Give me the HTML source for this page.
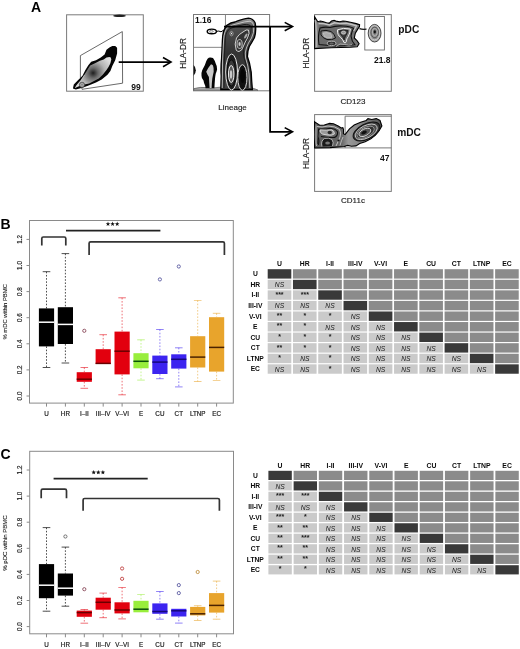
<!DOCTYPE html>
<html><head><meta charset="utf-8"><title>Figure</title>
<style>
html,body{margin:0;padding:0;background:#fff;}
body{width:520px;height:649px;overflow:hidden;}
svg{display:block;font-family:"Liberation Sans", sans-serif;filter:blur(0.3px);}
</style></head>
<body>
<svg width="520" height="649" viewBox="0 0 520 649">
<rect x="0" y="0" width="520" height="649" fill="#fff"/>
<rect x="29.5" y="220.5" width="203.8" height="182.60000000000002" fill="none" stroke="#8a8a8a" stroke-width="1"/>
<line x1="26.5" y1="396.0" x2="29.5" y2="396.0" stroke="#8a8a8a" stroke-width="1"/>
<text transform="translate(21.8,396.0) rotate(-90)" text-anchor="middle" font-size="6.3" fill="#222" stroke="#222" stroke-width="0.15">0.0</text>
<line x1="26.5" y1="369.9" x2="29.5" y2="369.9" stroke="#8a8a8a" stroke-width="1"/>
<text transform="translate(21.8,369.9) rotate(-90)" text-anchor="middle" font-size="6.3" fill="#222" stroke="#222" stroke-width="0.15">0.2</text>
<line x1="26.5" y1="343.8" x2="29.5" y2="343.8" stroke="#8a8a8a" stroke-width="1"/>
<text transform="translate(21.8,343.8) rotate(-90)" text-anchor="middle" font-size="6.3" fill="#222" stroke="#222" stroke-width="0.15">0.4</text>
<line x1="26.5" y1="317.7" x2="29.5" y2="317.7" stroke="#8a8a8a" stroke-width="1"/>
<text transform="translate(21.8,317.7) rotate(-90)" text-anchor="middle" font-size="6.3" fill="#222" stroke="#222" stroke-width="0.15">0.6</text>
<line x1="26.5" y1="291.6" x2="29.5" y2="291.6" stroke="#8a8a8a" stroke-width="1"/>
<text transform="translate(21.8,291.6) rotate(-90)" text-anchor="middle" font-size="6.3" fill="#222" stroke="#222" stroke-width="0.15">0.8</text>
<line x1="26.5" y1="265.5" x2="29.5" y2="265.5" stroke="#8a8a8a" stroke-width="1"/>
<text transform="translate(21.8,265.5) rotate(-90)" text-anchor="middle" font-size="6.3" fill="#222" stroke="#222" stroke-width="0.15">1.0</text>
<line x1="26.5" y1="239.4" x2="29.5" y2="239.4" stroke="#8a8a8a" stroke-width="1"/>
<text transform="translate(21.8,239.4) rotate(-90)" text-anchor="middle" font-size="6.3" fill="#222" stroke="#222" stroke-width="0.15">1.2</text>
<line x1="46.5" y1="403.1" x2="46.5" y2="406.6" stroke="#8a8a8a" stroke-width="1"/>
<text x="46.5" y="416.1" text-anchor="middle" font-size="6.3" fill="#1a1a1a" stroke="#1a1a1a" stroke-width="0.18">U</text>
<line x1="65.4" y1="403.1" x2="65.4" y2="406.6" stroke="#8a8a8a" stroke-width="1"/>
<text x="65.4" y="416.1" text-anchor="middle" font-size="6.3" fill="#1a1a1a" stroke="#1a1a1a" stroke-width="0.18">HR</text>
<line x1="84.3" y1="403.1" x2="84.3" y2="406.6" stroke="#8a8a8a" stroke-width="1"/>
<text x="84.3" y="416.1" text-anchor="middle" font-size="6.3" fill="#1a1a1a" stroke="#1a1a1a" stroke-width="0.18">I–II</text>
<line x1="103.2" y1="403.1" x2="103.2" y2="406.6" stroke="#8a8a8a" stroke-width="1"/>
<text x="103.2" y="416.1" text-anchor="middle" font-size="6.3" fill="#1a1a1a" stroke="#1a1a1a" stroke-width="0.18">III–IV</text>
<line x1="122.1" y1="403.1" x2="122.1" y2="406.6" stroke="#8a8a8a" stroke-width="1"/>
<text x="122.1" y="416.1" text-anchor="middle" font-size="6.3" fill="#1a1a1a" stroke="#1a1a1a" stroke-width="0.18">V–VI</text>
<line x1="141.0" y1="403.1" x2="141.0" y2="406.6" stroke="#8a8a8a" stroke-width="1"/>
<text x="141.0" y="416.1" text-anchor="middle" font-size="6.3" fill="#1a1a1a" stroke="#1a1a1a" stroke-width="0.18">E</text>
<line x1="159.9" y1="403.1" x2="159.9" y2="406.6" stroke="#8a8a8a" stroke-width="1"/>
<text x="159.9" y="416.1" text-anchor="middle" font-size="6.3" fill="#1a1a1a" stroke="#1a1a1a" stroke-width="0.18">CU</text>
<line x1="178.8" y1="403.1" x2="178.8" y2="406.6" stroke="#8a8a8a" stroke-width="1"/>
<text x="178.8" y="416.1" text-anchor="middle" font-size="6.3" fill="#1a1a1a" stroke="#1a1a1a" stroke-width="0.18">CT</text>
<line x1="197.7" y1="403.1" x2="197.7" y2="406.6" stroke="#8a8a8a" stroke-width="1"/>
<text x="197.7" y="416.1" text-anchor="middle" font-size="6.3" fill="#1a1a1a" stroke="#1a1a1a" stroke-width="0.18">LTNP</text>
<line x1="216.6" y1="403.1" x2="216.6" y2="406.6" stroke="#8a8a8a" stroke-width="1"/>
<text x="216.6" y="416.1" text-anchor="middle" font-size="6.3" fill="#1a1a1a" stroke="#1a1a1a" stroke-width="0.18">EC</text>
<line x1="46.5" y1="271.7" x2="46.5" y2="308.4" stroke="#222" stroke-width="0.8" stroke-dasharray="1.6,1.6" opacity="1"/>
<line x1="42.7" y1="271.7" x2="50.3" y2="271.7" stroke="#222" stroke-width="0.8" opacity="1"/>
<line x1="46.5" y1="346.4" x2="46.5" y2="367.5" stroke="#222" stroke-width="0.8" stroke-dasharray="1.6,1.6" opacity="1"/>
<line x1="42.7" y1="367.5" x2="50.3" y2="367.5" stroke="#222" stroke-width="0.8" opacity="1"/>
<rect x="38.9" y="308.4" width="15.2" height="38.0" fill="#000000"/>
<line x1="38.9" y1="322.2" x2="54.1" y2="322.2" stroke="#ffffff" stroke-width="1.5"/>
<line x1="65.4" y1="253.6" x2="65.4" y2="307.2" stroke="#222" stroke-width="0.8" stroke-dasharray="1.6,1.6" opacity="1"/>
<line x1="61.6" y1="253.6" x2="69.2" y2="253.6" stroke="#222" stroke-width="0.8" opacity="1"/>
<line x1="65.4" y1="344.0" x2="65.4" y2="363.0" stroke="#222" stroke-width="0.8" stroke-dasharray="1.6,1.6" opacity="1"/>
<line x1="61.6" y1="363.0" x2="69.2" y2="363.0" stroke="#222" stroke-width="0.8" opacity="1"/>
<rect x="57.8" y="307.2" width="15.2" height="36.8" fill="#000000"/>
<line x1="57.8" y1="324.4" x2="73.0" y2="324.4" stroke="#ffffff" stroke-width="1.5"/>
<line x1="84.3" y1="367.5" x2="84.3" y2="372.2" stroke="#e2000e" stroke-width="0.8" stroke-dasharray="1.6,1.6" opacity="0.7"/>
<line x1="80.5" y1="367.5" x2="88.1" y2="367.5" stroke="#e2000e" stroke-width="0.8" opacity="0.7"/>
<line x1="84.3" y1="381.8" x2="84.3" y2="388.3" stroke="#e2000e" stroke-width="0.8" stroke-dasharray="1.6,1.6" opacity="0.7"/>
<line x1="80.5" y1="388.3" x2="88.1" y2="388.3" stroke="#e2000e" stroke-width="0.8" opacity="0.7"/>
<rect x="76.7" y="372.2" width="15.2" height="9.6" fill="#e2000e"/>
<line x1="76.7" y1="379.2" x2="91.9" y2="379.2" stroke="#6a0000" stroke-width="1.5"/>
<circle cx="84.3" cy="330.8" r="1.6" fill="none" stroke="#8a4a5a" stroke-width="0.9"/>
<line x1="103.2" y1="334.7" x2="103.2" y2="349.2" stroke="#e2000e" stroke-width="0.8" stroke-dasharray="1.6,1.6" opacity="0.7"/>
<line x1="99.4" y1="334.7" x2="107.0" y2="334.7" stroke="#e2000e" stroke-width="0.8" opacity="0.7"/>
<rect x="95.6" y="349.2" width="15.2" height="14.8" fill="#e2000e"/>
<line x1="95.6" y1="363.4" x2="110.8" y2="363.4" stroke="#6a0000" stroke-width="1.5"/>
<line x1="122.1" y1="297.8" x2="122.1" y2="331.6" stroke="#e2000e" stroke-width="0.8" stroke-dasharray="1.6,1.6" opacity="0.7"/>
<line x1="118.3" y1="297.8" x2="125.9" y2="297.8" stroke="#e2000e" stroke-width="0.8" opacity="0.7"/>
<line x1="122.1" y1="374.4" x2="122.1" y2="394.8" stroke="#e2000e" stroke-width="0.8" stroke-dasharray="1.6,1.6" opacity="0.7"/>
<line x1="118.3" y1="394.8" x2="125.9" y2="394.8" stroke="#e2000e" stroke-width="0.8" opacity="0.7"/>
<rect x="114.5" y="331.6" width="15.2" height="42.8" fill="#e2000e"/>
<line x1="114.5" y1="351.2" x2="129.7" y2="351.2" stroke="#6a0000" stroke-width="1.5"/>
<line x1="141.0" y1="339.8" x2="141.0" y2="353.2" stroke="#98ee3c" stroke-width="0.8" stroke-dasharray="1.6,1.6" opacity="0.7"/>
<line x1="137.2" y1="339.8" x2="144.8" y2="339.8" stroke="#98ee3c" stroke-width="0.8" opacity="0.7"/>
<line x1="141.0" y1="368.3" x2="141.0" y2="380.1" stroke="#98ee3c" stroke-width="0.8" stroke-dasharray="1.6,1.6" opacity="0.7"/>
<line x1="137.2" y1="380.1" x2="144.8" y2="380.1" stroke="#98ee3c" stroke-width="0.8" opacity="0.7"/>
<rect x="133.4" y="353.2" width="15.2" height="15.1" fill="#98ee3c"/>
<line x1="133.4" y1="361.3" x2="148.6" y2="361.3" stroke="#0b500b" stroke-width="1.5"/>
<line x1="159.9" y1="329.5" x2="159.9" y2="355.6" stroke="#3c24f0" stroke-width="0.8" stroke-dasharray="1.6,1.6" opacity="0.7"/>
<line x1="156.1" y1="329.5" x2="163.7" y2="329.5" stroke="#3c24f0" stroke-width="0.8" opacity="0.7"/>
<line x1="159.9" y1="374.0" x2="159.9" y2="378.7" stroke="#3c24f0" stroke-width="0.8" stroke-dasharray="1.6,1.6" opacity="0.7"/>
<line x1="156.1" y1="378.7" x2="163.7" y2="378.7" stroke="#3c24f0" stroke-width="0.8" opacity="0.7"/>
<rect x="152.3" y="355.6" width="15.2" height="18.4" fill="#3c24f0"/>
<line x1="152.3" y1="362.1" x2="167.5" y2="362.1" stroke="#16087a" stroke-width="1.5"/>
<circle cx="159.9" cy="279.4" r="1.6" fill="none" stroke="#5a5aa0" stroke-width="0.9"/>
<line x1="178.8" y1="347.8" x2="178.8" y2="354.3" stroke="#3c24f0" stroke-width="0.8" stroke-dasharray="1.6,1.6" opacity="0.7"/>
<line x1="175.0" y1="347.8" x2="182.6" y2="347.8" stroke="#3c24f0" stroke-width="0.8" opacity="0.7"/>
<line x1="178.8" y1="368.6" x2="178.8" y2="386.9" stroke="#3c24f0" stroke-width="0.8" stroke-dasharray="1.6,1.6" opacity="0.7"/>
<line x1="175.0" y1="386.9" x2="182.6" y2="386.9" stroke="#3c24f0" stroke-width="0.8" opacity="0.7"/>
<rect x="171.2" y="354.3" width="15.2" height="14.3" fill="#3c24f0"/>
<line x1="171.2" y1="359.3" x2="186.4" y2="359.3" stroke="#16087a" stroke-width="1.5"/>
<circle cx="178.8" cy="266.5" r="1.6" fill="none" stroke="#5a5aa0" stroke-width="0.9"/>
<line x1="197.7" y1="300.4" x2="197.7" y2="336.2" stroke="#e8a42c" stroke-width="0.8" stroke-dasharray="1.6,1.6" opacity="0.7"/>
<line x1="193.9" y1="300.4" x2="201.5" y2="300.4" stroke="#e8a42c" stroke-width="0.8" opacity="0.7"/>
<line x1="197.7" y1="367.5" x2="197.7" y2="381.5" stroke="#e8a42c" stroke-width="0.8" stroke-dasharray="1.6,1.6" opacity="0.7"/>
<line x1="193.9" y1="381.5" x2="201.5" y2="381.5" stroke="#e8a42c" stroke-width="0.8" opacity="0.7"/>
<rect x="190.1" y="336.2" width="15.2" height="31.3" fill="#e8a42c"/>
<line x1="190.1" y1="357.1" x2="205.3" y2="357.1" stroke="#4a2200" stroke-width="1.5"/>
<line x1="216.6" y1="313.3" x2="216.6" y2="317.2" stroke="#e8a42c" stroke-width="0.8" stroke-dasharray="1.6,1.6" opacity="0.7"/>
<line x1="212.8" y1="313.3" x2="220.4" y2="313.3" stroke="#e8a42c" stroke-width="0.8" opacity="0.7"/>
<line x1="216.6" y1="371.6" x2="216.6" y2="380.4" stroke="#e8a42c" stroke-width="0.8" stroke-dasharray="1.6,1.6" opacity="0.7"/>
<line x1="212.8" y1="380.4" x2="220.4" y2="380.4" stroke="#e8a42c" stroke-width="0.8" opacity="0.7"/>
<rect x="209.0" y="317.2" width="15.2" height="54.4" fill="#e8a42c"/>
<line x1="209.0" y1="347.4" x2="224.2" y2="347.4" stroke="#4a2200" stroke-width="1.5"/>
<text transform="translate(6.5,311.8) rotate(-90)" text-anchor="middle" font-size="6.2" textLength="55.4" lengthAdjust="spacingAndGlyphs" fill="#222" stroke="#222" stroke-width="0.12">% mDC within PBMC</text>
<text x="0.6" y="228.9" font-size="14" font-weight="bold" fill="#000">B</text>
<line x1="66" y1="230.6" x2="160.4" y2="230.6" stroke="#222" stroke-width="1.6"/>
<polygon points="108.00,221.60 108.59,223.19 110.28,223.26 108.95,224.31 109.41,225.94 108.00,225.00 106.59,225.94 107.05,224.31 105.72,223.26 107.41,223.19" fill="#111"/>
<polygon points="112.60,221.60 113.19,223.19 114.88,223.26 113.55,224.31 114.01,225.94 112.60,225.00 111.19,225.94 111.65,224.31 110.32,223.26 112.01,223.19" fill="#111"/>
<polygon points="117.20,221.60 117.79,223.19 119.48,223.26 118.15,224.31 118.61,225.94 117.20,225.00 115.79,225.94 116.25,224.31 114.92,223.26 116.61,223.19" fill="#111"/>
<path d="M41.8,245.5 L41.8,238.5 Q41.8,237 43.3,237 L64.3,237 Q65.8,237 65.8,238.5 L65.8,245.5" fill="none" stroke="#333" stroke-width="1.7"/>
<path d="M89.1,255.1 L89.1,243.3 Q89.1,241.8 90.6,241.8 L222.9,241.8 Q224.4,241.8 224.4,243.3 L224.4,255.1" fill="none" stroke="#333" stroke-width="1.7"/>
<rect x="29.7" y="451.3" width="203.8" height="182.49999999999994" fill="none" stroke="#8a8a8a" stroke-width="1"/>
<line x1="26.7" y1="626.6" x2="29.7" y2="626.6" stroke="#8a8a8a" stroke-width="1"/>
<text transform="translate(21.8,626.6) rotate(-90)" text-anchor="middle" font-size="6.3" fill="#222" stroke="#222" stroke-width="0.15">0.0</text>
<line x1="26.7" y1="600.5" x2="29.7" y2="600.5" stroke="#8a8a8a" stroke-width="1"/>
<text transform="translate(21.8,600.5) rotate(-90)" text-anchor="middle" font-size="6.3" fill="#222" stroke="#222" stroke-width="0.15">0.2</text>
<line x1="26.7" y1="574.4" x2="29.7" y2="574.4" stroke="#8a8a8a" stroke-width="1"/>
<text transform="translate(21.8,574.4) rotate(-90)" text-anchor="middle" font-size="6.3" fill="#222" stroke="#222" stroke-width="0.15">0.4</text>
<line x1="26.7" y1="548.3" x2="29.7" y2="548.3" stroke="#8a8a8a" stroke-width="1"/>
<text transform="translate(21.8,548.3) rotate(-90)" text-anchor="middle" font-size="6.3" fill="#222" stroke="#222" stroke-width="0.15">0.6</text>
<line x1="26.7" y1="522.2" x2="29.7" y2="522.2" stroke="#8a8a8a" stroke-width="1"/>
<text transform="translate(21.8,522.2) rotate(-90)" text-anchor="middle" font-size="6.3" fill="#222" stroke="#222" stroke-width="0.15">0.8</text>
<line x1="26.7" y1="496.1" x2="29.7" y2="496.1" stroke="#8a8a8a" stroke-width="1"/>
<text transform="translate(21.8,496.1) rotate(-90)" text-anchor="middle" font-size="6.3" fill="#222" stroke="#222" stroke-width="0.15">1.0</text>
<line x1="26.7" y1="470.0" x2="29.7" y2="470.0" stroke="#8a8a8a" stroke-width="1"/>
<text transform="translate(21.8,470.0) rotate(-90)" text-anchor="middle" font-size="6.3" fill="#222" stroke="#222" stroke-width="0.15">1.2</text>
<line x1="46.5" y1="633.8" x2="46.5" y2="637.3" stroke="#8a8a8a" stroke-width="1"/>
<text x="46.5" y="646.8" text-anchor="middle" font-size="6.3" fill="#1a1a1a" stroke="#1a1a1a" stroke-width="0.18">U</text>
<line x1="65.4" y1="633.8" x2="65.4" y2="637.3" stroke="#8a8a8a" stroke-width="1"/>
<text x="65.4" y="646.8" text-anchor="middle" font-size="6.3" fill="#1a1a1a" stroke="#1a1a1a" stroke-width="0.18">HR</text>
<line x1="84.3" y1="633.8" x2="84.3" y2="637.3" stroke="#8a8a8a" stroke-width="1"/>
<text x="84.3" y="646.8" text-anchor="middle" font-size="6.3" fill="#1a1a1a" stroke="#1a1a1a" stroke-width="0.18">I–II</text>
<line x1="103.2" y1="633.8" x2="103.2" y2="637.3" stroke="#8a8a8a" stroke-width="1"/>
<text x="103.2" y="646.8" text-anchor="middle" font-size="6.3" fill="#1a1a1a" stroke="#1a1a1a" stroke-width="0.18">III–IV</text>
<line x1="122.1" y1="633.8" x2="122.1" y2="637.3" stroke="#8a8a8a" stroke-width="1"/>
<text x="122.1" y="646.8" text-anchor="middle" font-size="6.3" fill="#1a1a1a" stroke="#1a1a1a" stroke-width="0.18">V–VI</text>
<line x1="141.0" y1="633.8" x2="141.0" y2="637.3" stroke="#8a8a8a" stroke-width="1"/>
<text x="141.0" y="646.8" text-anchor="middle" font-size="6.3" fill="#1a1a1a" stroke="#1a1a1a" stroke-width="0.18">E</text>
<line x1="159.9" y1="633.8" x2="159.9" y2="637.3" stroke="#8a8a8a" stroke-width="1"/>
<text x="159.9" y="646.8" text-anchor="middle" font-size="6.3" fill="#1a1a1a" stroke="#1a1a1a" stroke-width="0.18">CU</text>
<line x1="178.8" y1="633.8" x2="178.8" y2="637.3" stroke="#8a8a8a" stroke-width="1"/>
<text x="178.8" y="646.8" text-anchor="middle" font-size="6.3" fill="#1a1a1a" stroke="#1a1a1a" stroke-width="0.18">CT</text>
<line x1="197.7" y1="633.8" x2="197.7" y2="637.3" stroke="#8a8a8a" stroke-width="1"/>
<text x="197.7" y="646.8" text-anchor="middle" font-size="6.3" fill="#1a1a1a" stroke="#1a1a1a" stroke-width="0.18">LTNP</text>
<line x1="216.6" y1="633.8" x2="216.6" y2="637.3" stroke="#8a8a8a" stroke-width="1"/>
<text x="216.6" y="646.8" text-anchor="middle" font-size="6.3" fill="#1a1a1a" stroke="#1a1a1a" stroke-width="0.18">EC</text>
<line x1="46.5" y1="527.6" x2="46.5" y2="564.1" stroke="#222" stroke-width="0.8" stroke-dasharray="1.6,1.6" opacity="1"/>
<line x1="42.7" y1="527.6" x2="50.3" y2="527.6" stroke="#222" stroke-width="0.8" opacity="1"/>
<line x1="46.5" y1="598.2" x2="46.5" y2="611.2" stroke="#222" stroke-width="0.8" stroke-dasharray="1.6,1.6" opacity="1"/>
<line x1="42.7" y1="611.2" x2="50.3" y2="611.2" stroke="#222" stroke-width="0.8" opacity="1"/>
<rect x="38.9" y="564.1" width="15.2" height="34.1" fill="#000000"/>
<line x1="38.9" y1="585.2" x2="54.1" y2="585.2" stroke="#ffffff" stroke-width="1.5"/>
<line x1="65.4" y1="547.1" x2="65.4" y2="573.5" stroke="#222" stroke-width="0.8" stroke-dasharray="1.6,1.6" opacity="1"/>
<line x1="61.6" y1="547.1" x2="69.2" y2="547.1" stroke="#222" stroke-width="0.8" opacity="1"/>
<line x1="65.4" y1="595.6" x2="65.4" y2="606.2" stroke="#222" stroke-width="0.8" stroke-dasharray="1.6,1.6" opacity="1"/>
<line x1="61.6" y1="606.2" x2="69.2" y2="606.2" stroke="#222" stroke-width="0.8" opacity="1"/>
<rect x="57.8" y="573.5" width="15.2" height="22.1" fill="#000000"/>
<line x1="57.8" y1="588.2" x2="73.0" y2="588.2" stroke="#ffffff" stroke-width="1.5"/>
<circle cx="65.4" cy="536.5" r="1.6" fill="none" stroke="#666" stroke-width="0.9"/>
<line x1="84.3" y1="609.5" x2="84.3" y2="610.6" stroke="#e2000e" stroke-width="0.8" stroke-dasharray="1.6,1.6" opacity="0.7"/>
<line x1="80.5" y1="609.5" x2="88.1" y2="609.5" stroke="#e2000e" stroke-width="0.8" opacity="0.7"/>
<line x1="84.3" y1="616.8" x2="84.3" y2="623.2" stroke="#e2000e" stroke-width="0.8" stroke-dasharray="1.6,1.6" opacity="0.7"/>
<line x1="80.5" y1="623.2" x2="88.1" y2="623.2" stroke="#e2000e" stroke-width="0.8" opacity="0.7"/>
<rect x="76.7" y="610.6" width="15.2" height="6.2" fill="#e2000e"/>
<line x1="76.7" y1="612.6" x2="91.9" y2="612.6" stroke="#6a0000" stroke-width="1.5"/>
<circle cx="84.3" cy="589.2" r="1.6" fill="none" stroke="#8a4a5a" stroke-width="0.9"/>
<line x1="103.2" y1="593.1" x2="103.2" y2="597.7" stroke="#e2000e" stroke-width="0.8" stroke-dasharray="1.6,1.6" opacity="0.7"/>
<line x1="99.4" y1="593.1" x2="107.0" y2="593.1" stroke="#e2000e" stroke-width="0.8" opacity="0.7"/>
<line x1="103.2" y1="609.7" x2="103.2" y2="617.7" stroke="#e2000e" stroke-width="0.8" stroke-dasharray="1.6,1.6" opacity="0.7"/>
<line x1="99.4" y1="617.7" x2="107.0" y2="617.7" stroke="#e2000e" stroke-width="0.8" opacity="0.7"/>
<rect x="95.6" y="597.7" width="15.2" height="12.0" fill="#e2000e"/>
<line x1="95.6" y1="602.3" x2="110.8" y2="602.3" stroke="#6a0000" stroke-width="1.5"/>
<line x1="122.1" y1="587.4" x2="122.1" y2="602.3" stroke="#e2000e" stroke-width="0.8" stroke-dasharray="1.6,1.6" opacity="0.7"/>
<line x1="118.3" y1="587.4" x2="125.9" y2="587.4" stroke="#e2000e" stroke-width="0.8" opacity="0.7"/>
<line x1="122.1" y1="613.4" x2="122.1" y2="618.9" stroke="#e2000e" stroke-width="0.8" stroke-dasharray="1.6,1.6" opacity="0.7"/>
<line x1="118.3" y1="618.9" x2="125.9" y2="618.9" stroke="#e2000e" stroke-width="0.8" opacity="0.7"/>
<rect x="114.5" y="602.3" width="15.2" height="11.1" fill="#e2000e"/>
<line x1="114.5" y1="610.0" x2="129.7" y2="610.0" stroke="#6a0000" stroke-width="1.5"/>
<circle cx="122.1" cy="568.5" r="1.6" fill="none" stroke="#c04040" stroke-width="0.9"/>
<circle cx="122.1" cy="578.8" r="1.6" fill="none" stroke="#c04040" stroke-width="0.9"/>
<line x1="141.0" y1="594.6" x2="141.0" y2="600.8" stroke="#98ee3c" stroke-width="0.8" stroke-dasharray="1.6,1.6" opacity="0.7"/>
<line x1="137.2" y1="594.6" x2="144.8" y2="594.6" stroke="#98ee3c" stroke-width="0.8" opacity="0.7"/>
<rect x="133.4" y="600.8" width="15.2" height="11.5" fill="#98ee3c"/>
<line x1="133.4" y1="609.2" x2="148.6" y2="609.2" stroke="#0b500b" stroke-width="1.5"/>
<line x1="159.9" y1="591.5" x2="159.9" y2="603.4" stroke="#3c24f0" stroke-width="0.8" stroke-dasharray="1.6,1.6" opacity="0.7"/>
<line x1="156.1" y1="591.5" x2="163.7" y2="591.5" stroke="#3c24f0" stroke-width="0.8" opacity="0.7"/>
<line x1="159.9" y1="613.8" x2="159.9" y2="619.2" stroke="#3c24f0" stroke-width="0.8" stroke-dasharray="1.6,1.6" opacity="0.7"/>
<line x1="156.1" y1="619.2" x2="163.7" y2="619.2" stroke="#3c24f0" stroke-width="0.8" opacity="0.7"/>
<rect x="152.3" y="603.4" width="15.2" height="10.4" fill="#3c24f0"/>
<line x1="152.3" y1="611.5" x2="167.5" y2="611.5" stroke="#16087a" stroke-width="1.5"/>
<line x1="178.8" y1="616.5" x2="178.8" y2="623.1" stroke="#3c24f0" stroke-width="0.8" stroke-dasharray="1.6,1.6" opacity="0.7"/>
<line x1="175.0" y1="623.1" x2="182.6" y2="623.1" stroke="#3c24f0" stroke-width="0.8" opacity="0.7"/>
<rect x="171.2" y="608.8" width="15.2" height="7.7" fill="#3c24f0"/>
<line x1="171.2" y1="610.8" x2="186.4" y2="610.8" stroke="#16087a" stroke-width="1.5"/>
<circle cx="178.8" cy="585.1" r="1.6" fill="none" stroke="#5a5aa0" stroke-width="0.9"/>
<circle cx="178.8" cy="593.1" r="1.6" fill="none" stroke="#5a5aa0" stroke-width="0.9"/>
<line x1="197.7" y1="605.7" x2="197.7" y2="606.9" stroke="#e8a42c" stroke-width="0.8" stroke-dasharray="1.6,1.6" opacity="0.7"/>
<line x1="193.9" y1="605.7" x2="201.5" y2="605.7" stroke="#e8a42c" stroke-width="0.8" opacity="0.7"/>
<line x1="197.7" y1="615.4" x2="197.7" y2="620.5" stroke="#e8a42c" stroke-width="0.8" stroke-dasharray="1.6,1.6" opacity="0.7"/>
<line x1="193.9" y1="620.5" x2="201.5" y2="620.5" stroke="#e8a42c" stroke-width="0.8" opacity="0.7"/>
<rect x="190.1" y="606.9" width="15.2" height="8.5" fill="#e8a42c"/>
<line x1="190.1" y1="613.8" x2="205.3" y2="613.8" stroke="#4a2200" stroke-width="1.5"/>
<circle cx="197.7" cy="572.0" r="1.6" fill="none" stroke="#c09040" stroke-width="0.9"/>
<line x1="216.6" y1="581.1" x2="216.6" y2="593.1" stroke="#e8a42c" stroke-width="0.8" stroke-dasharray="1.6,1.6" opacity="0.7"/>
<line x1="212.8" y1="581.1" x2="220.4" y2="581.1" stroke="#e8a42c" stroke-width="0.8" opacity="0.7"/>
<line x1="216.6" y1="612.6" x2="216.6" y2="619.2" stroke="#e8a42c" stroke-width="0.8" stroke-dasharray="1.6,1.6" opacity="0.7"/>
<line x1="212.8" y1="619.2" x2="220.4" y2="619.2" stroke="#e8a42c" stroke-width="0.8" opacity="0.7"/>
<rect x="209.0" y="593.1" width="15.2" height="19.5" fill="#e8a42c"/>
<line x1="209.0" y1="605.4" x2="224.2" y2="605.4" stroke="#4a2200" stroke-width="1.5"/>
<text transform="translate(6.5,543.0) rotate(-90)" text-anchor="middle" font-size="6.2" textLength="55.4" lengthAdjust="spacingAndGlyphs" fill="#222" stroke="#222" stroke-width="0.12">% pDC within PBMC</text>
<text x="0.6" y="459.3" font-size="14" font-weight="bold" fill="#000">C</text>
<line x1="53.6" y1="478.6" x2="147.7" y2="478.6" stroke="#222" stroke-width="1.6"/>
<polygon points="93.70,470.00 94.29,471.59 95.98,471.66 94.65,472.71 95.11,474.34 93.70,473.40 92.29,474.34 92.75,472.71 91.42,471.66 93.11,471.59" fill="#111"/>
<polygon points="98.30,470.00 98.89,471.59 100.58,471.66 99.25,472.71 99.71,474.34 98.30,473.40 96.89,474.34 97.35,472.71 96.02,471.66 97.71,471.59" fill="#111"/>
<polygon points="102.90,470.00 103.49,471.59 105.18,471.66 103.85,472.71 104.31,474.34 102.90,473.40 101.49,474.34 101.95,472.71 100.62,471.66 102.31,471.59" fill="#111"/>
<path d="M41.2,498.2 L41.2,490.7 Q41.2,489.2 42.7,489.2 L65.0,489.2 Q66.5,489.2 66.5,490.7 L66.5,498.2" fill="none" stroke="#333" stroke-width="1.7"/>
<path d="M83.1,510.8 L83.1,500.0 Q83.1,498.5 84.6,498.5 L217.9,498.5 Q219.4,498.5 219.4,500.0 L219.4,510.8" fill="none" stroke="#333" stroke-width="1.7"/>
<text transform="translate(279.5,266.2) scale(0.94,1)" text-anchor="middle" font-size="7.3" font-weight="bold" fill="#0a0a0a">U</text>
<text transform="translate(304.8,266.2) scale(0.94,1)" text-anchor="middle" font-size="7.3" font-weight="bold" fill="#0a0a0a">HR</text>
<text transform="translate(330.0,266.2) scale(0.94,1)" text-anchor="middle" font-size="7.3" font-weight="bold" fill="#0a0a0a">I-II</text>
<text transform="translate(355.3,266.2) scale(0.94,1)" text-anchor="middle" font-size="7.3" font-weight="bold" fill="#0a0a0a">III-IV</text>
<text transform="translate(380.6,266.2) scale(0.94,1)" text-anchor="middle" font-size="7.3" font-weight="bold" fill="#0a0a0a">V-VI</text>
<text transform="translate(405.8,266.2) scale(0.94,1)" text-anchor="middle" font-size="7.3" font-weight="bold" fill="#0a0a0a">E</text>
<text transform="translate(431.1,266.2) scale(0.94,1)" text-anchor="middle" font-size="7.3" font-weight="bold" fill="#0a0a0a">CU</text>
<text transform="translate(456.4,266.2) scale(0.94,1)" text-anchor="middle" font-size="7.3" font-weight="bold" fill="#0a0a0a">CT</text>
<text transform="translate(481.7,266.2) scale(0.94,1)" text-anchor="middle" font-size="7.3" font-weight="bold" fill="#0a0a0a">LTNP</text>
<text transform="translate(506.9,266.2) scale(0.94,1)" text-anchor="middle" font-size="7.3" font-weight="bold" fill="#0a0a0a">EC</text>
<text transform="translate(255.3,276.2) scale(0.92,1)" text-anchor="middle" font-size="7.3" font-weight="bold" fill="#0a0a0a">U</text>
<rect x="267.70" y="269.20" width="23.6" height="9.4" fill="#393939"/>
<rect x="292.97" y="269.20" width="23.6" height="9.4" fill="#8b8b8b"/>
<rect x="318.24" y="269.20" width="23.6" height="9.4" fill="#8b8b8b"/>
<rect x="343.51" y="269.20" width="23.6" height="9.4" fill="#8b8b8b"/>
<rect x="368.78" y="269.20" width="23.6" height="9.4" fill="#8b8b8b"/>
<rect x="394.05" y="269.20" width="23.6" height="9.4" fill="#8b8b8b"/>
<rect x="419.32" y="269.20" width="23.6" height="9.4" fill="#8b8b8b"/>
<rect x="444.59" y="269.20" width="23.6" height="9.4" fill="#8b8b8b"/>
<rect x="469.86" y="269.20" width="23.6" height="9.4" fill="#8b8b8b"/>
<rect x="495.13" y="269.20" width="23.6" height="9.4" fill="#8b8b8b"/>
<text transform="translate(255.3,286.8) scale(0.92,1)" text-anchor="middle" font-size="7.3" font-weight="bold" fill="#0a0a0a">HR</text>
<rect x="267.70" y="279.77" width="23.6" height="9.4" fill="#cacaca"/>
<text transform="translate(279.5,287.3) scale(0.86,1)" text-anchor="middle" font-size="7.8" font-style="italic" fill="#1a1a1a">NS</text>
<rect x="292.97" y="279.77" width="23.6" height="9.4" fill="#393939"/>
<rect x="318.24" y="279.77" width="23.6" height="9.4" fill="#8b8b8b"/>
<rect x="343.51" y="279.77" width="23.6" height="9.4" fill="#8b8b8b"/>
<rect x="368.78" y="279.77" width="23.6" height="9.4" fill="#8b8b8b"/>
<rect x="394.05" y="279.77" width="23.6" height="9.4" fill="#8b8b8b"/>
<rect x="419.32" y="279.77" width="23.6" height="9.4" fill="#8b8b8b"/>
<rect x="444.59" y="279.77" width="23.6" height="9.4" fill="#8b8b8b"/>
<rect x="469.86" y="279.77" width="23.6" height="9.4" fill="#8b8b8b"/>
<rect x="495.13" y="279.77" width="23.6" height="9.4" fill="#8b8b8b"/>
<text transform="translate(255.3,297.3) scale(0.92,1)" text-anchor="middle" font-size="7.3" font-weight="bold" fill="#0a0a0a">I-II</text>
<rect x="267.70" y="290.34" width="23.6" height="9.4" fill="#cacaca"/>
<text x="279.5" y="296.6" text-anchor="middle" font-size="7" font-weight="bold" fill="#1a1a1a">***</text>
<rect x="292.97" y="290.34" width="23.6" height="9.4" fill="#cacaca"/>
<text x="304.8" y="296.6" text-anchor="middle" font-size="7" font-weight="bold" fill="#1a1a1a">***</text>
<rect x="318.24" y="290.34" width="23.6" height="9.4" fill="#393939"/>
<rect x="343.51" y="290.34" width="23.6" height="9.4" fill="#8b8b8b"/>
<rect x="368.78" y="290.34" width="23.6" height="9.4" fill="#8b8b8b"/>
<rect x="394.05" y="290.34" width="23.6" height="9.4" fill="#8b8b8b"/>
<rect x="419.32" y="290.34" width="23.6" height="9.4" fill="#8b8b8b"/>
<rect x="444.59" y="290.34" width="23.6" height="9.4" fill="#8b8b8b"/>
<rect x="469.86" y="290.34" width="23.6" height="9.4" fill="#8b8b8b"/>
<rect x="495.13" y="290.34" width="23.6" height="9.4" fill="#8b8b8b"/>
<text transform="translate(255.3,307.9) scale(0.92,1)" text-anchor="middle" font-size="7.3" font-weight="bold" fill="#0a0a0a">III-IV</text>
<rect x="267.70" y="300.91" width="23.6" height="9.4" fill="#cacaca"/>
<text transform="translate(279.5,308.4) scale(0.86,1)" text-anchor="middle" font-size="7.8" font-style="italic" fill="#1a1a1a">NS</text>
<rect x="292.97" y="300.91" width="23.6" height="9.4" fill="#cacaca"/>
<text transform="translate(304.8,308.4) scale(0.86,1)" text-anchor="middle" font-size="7.8" font-style="italic" fill="#1a1a1a">NS</text>
<rect x="318.24" y="300.91" width="23.6" height="9.4" fill="#cacaca"/>
<text transform="translate(330.0,308.4) scale(0.86,1)" text-anchor="middle" font-size="7.8" font-style="italic" fill="#1a1a1a">NS</text>
<rect x="343.51" y="300.91" width="23.6" height="9.4" fill="#393939"/>
<rect x="368.78" y="300.91" width="23.6" height="9.4" fill="#8b8b8b"/>
<rect x="394.05" y="300.91" width="23.6" height="9.4" fill="#8b8b8b"/>
<rect x="419.32" y="300.91" width="23.6" height="9.4" fill="#8b8b8b"/>
<rect x="444.59" y="300.91" width="23.6" height="9.4" fill="#8b8b8b"/>
<rect x="469.86" y="300.91" width="23.6" height="9.4" fill="#8b8b8b"/>
<rect x="495.13" y="300.91" width="23.6" height="9.4" fill="#8b8b8b"/>
<text transform="translate(255.3,318.5) scale(0.92,1)" text-anchor="middle" font-size="7.3" font-weight="bold" fill="#0a0a0a">V-VI</text>
<rect x="267.70" y="311.48" width="23.6" height="9.4" fill="#cacaca"/>
<text x="279.5" y="317.8" text-anchor="middle" font-size="7" font-weight="bold" fill="#1a1a1a">**</text>
<rect x="292.97" y="311.48" width="23.6" height="9.4" fill="#cacaca"/>
<text x="304.8" y="317.8" text-anchor="middle" font-size="7" font-weight="bold" fill="#1a1a1a">*</text>
<rect x="318.24" y="311.48" width="23.6" height="9.4" fill="#cacaca"/>
<text x="330.0" y="317.8" text-anchor="middle" font-size="7" font-weight="bold" fill="#1a1a1a">*</text>
<rect x="343.51" y="311.48" width="23.6" height="9.4" fill="#cacaca"/>
<text transform="translate(355.3,319.0) scale(0.86,1)" text-anchor="middle" font-size="7.8" font-style="italic" fill="#1a1a1a">NS</text>
<rect x="368.78" y="311.48" width="23.6" height="9.4" fill="#393939"/>
<rect x="394.05" y="311.48" width="23.6" height="9.4" fill="#8b8b8b"/>
<rect x="419.32" y="311.48" width="23.6" height="9.4" fill="#8b8b8b"/>
<rect x="444.59" y="311.48" width="23.6" height="9.4" fill="#8b8b8b"/>
<rect x="469.86" y="311.48" width="23.6" height="9.4" fill="#8b8b8b"/>
<rect x="495.13" y="311.48" width="23.6" height="9.4" fill="#8b8b8b"/>
<text transform="translate(255.3,329.1) scale(0.92,1)" text-anchor="middle" font-size="7.3" font-weight="bold" fill="#0a0a0a">E</text>
<rect x="267.70" y="322.05" width="23.6" height="9.4" fill="#cacaca"/>
<text x="279.5" y="328.4" text-anchor="middle" font-size="7" font-weight="bold" fill="#1a1a1a">**</text>
<rect x="292.97" y="322.05" width="23.6" height="9.4" fill="#cacaca"/>
<text x="304.8" y="328.4" text-anchor="middle" font-size="7" font-weight="bold" fill="#1a1a1a">*</text>
<rect x="318.24" y="322.05" width="23.6" height="9.4" fill="#cacaca"/>
<text transform="translate(330.0,329.6) scale(0.86,1)" text-anchor="middle" font-size="7.8" font-style="italic" fill="#1a1a1a">NS</text>
<rect x="343.51" y="322.05" width="23.6" height="9.4" fill="#cacaca"/>
<text transform="translate(355.3,329.6) scale(0.86,1)" text-anchor="middle" font-size="7.8" font-style="italic" fill="#1a1a1a">NS</text>
<rect x="368.78" y="322.05" width="23.6" height="9.4" fill="#cacaca"/>
<text transform="translate(380.6,329.6) scale(0.86,1)" text-anchor="middle" font-size="7.8" font-style="italic" fill="#1a1a1a">NS</text>
<rect x="394.05" y="322.05" width="23.6" height="9.4" fill="#393939"/>
<rect x="419.32" y="322.05" width="23.6" height="9.4" fill="#8b8b8b"/>
<rect x="444.59" y="322.05" width="23.6" height="9.4" fill="#8b8b8b"/>
<rect x="469.86" y="322.05" width="23.6" height="9.4" fill="#8b8b8b"/>
<rect x="495.13" y="322.05" width="23.6" height="9.4" fill="#8b8b8b"/>
<text transform="translate(255.3,339.6) scale(0.92,1)" text-anchor="middle" font-size="7.3" font-weight="bold" fill="#0a0a0a">CU</text>
<rect x="267.70" y="332.62" width="23.6" height="9.4" fill="#cacaca"/>
<text x="279.5" y="338.9" text-anchor="middle" font-size="7" font-weight="bold" fill="#1a1a1a">*</text>
<rect x="292.97" y="332.62" width="23.6" height="9.4" fill="#cacaca"/>
<text x="304.8" y="338.9" text-anchor="middle" font-size="7" font-weight="bold" fill="#1a1a1a">*</text>
<rect x="318.24" y="332.62" width="23.6" height="9.4" fill="#cacaca"/>
<text x="330.0" y="338.9" text-anchor="middle" font-size="7" font-weight="bold" fill="#1a1a1a">*</text>
<rect x="343.51" y="332.62" width="23.6" height="9.4" fill="#cacaca"/>
<text transform="translate(355.3,340.1) scale(0.86,1)" text-anchor="middle" font-size="7.8" font-style="italic" fill="#1a1a1a">NS</text>
<rect x="368.78" y="332.62" width="23.6" height="9.4" fill="#cacaca"/>
<text transform="translate(380.6,340.1) scale(0.86,1)" text-anchor="middle" font-size="7.8" font-style="italic" fill="#1a1a1a">NS</text>
<rect x="394.05" y="332.62" width="23.6" height="9.4" fill="#cacaca"/>
<text transform="translate(405.8,340.1) scale(0.86,1)" text-anchor="middle" font-size="7.8" font-style="italic" fill="#1a1a1a">NS</text>
<rect x="419.32" y="332.62" width="23.6" height="9.4" fill="#393939"/>
<rect x="444.59" y="332.62" width="23.6" height="9.4" fill="#8b8b8b"/>
<rect x="469.86" y="332.62" width="23.6" height="9.4" fill="#8b8b8b"/>
<rect x="495.13" y="332.62" width="23.6" height="9.4" fill="#8b8b8b"/>
<text transform="translate(255.3,350.2) scale(0.92,1)" text-anchor="middle" font-size="7.3" font-weight="bold" fill="#0a0a0a">CT</text>
<rect x="267.70" y="343.19" width="23.6" height="9.4" fill="#cacaca"/>
<text x="279.5" y="349.5" text-anchor="middle" font-size="7" font-weight="bold" fill="#1a1a1a">**</text>
<rect x="292.97" y="343.19" width="23.6" height="9.4" fill="#cacaca"/>
<text x="304.8" y="349.5" text-anchor="middle" font-size="7" font-weight="bold" fill="#1a1a1a">*</text>
<rect x="318.24" y="343.19" width="23.6" height="9.4" fill="#cacaca"/>
<text x="330.0" y="349.5" text-anchor="middle" font-size="7" font-weight="bold" fill="#1a1a1a">*</text>
<rect x="343.51" y="343.19" width="23.6" height="9.4" fill="#cacaca"/>
<text transform="translate(355.3,350.7) scale(0.86,1)" text-anchor="middle" font-size="7.8" font-style="italic" fill="#1a1a1a">NS</text>
<rect x="368.78" y="343.19" width="23.6" height="9.4" fill="#cacaca"/>
<text transform="translate(380.6,350.7) scale(0.86,1)" text-anchor="middle" font-size="7.8" font-style="italic" fill="#1a1a1a">NS</text>
<rect x="394.05" y="343.19" width="23.6" height="9.4" fill="#cacaca"/>
<text transform="translate(405.8,350.7) scale(0.86,1)" text-anchor="middle" font-size="7.8" font-style="italic" fill="#1a1a1a">NS</text>
<rect x="419.32" y="343.19" width="23.6" height="9.4" fill="#cacaca"/>
<text transform="translate(431.1,350.7) scale(0.86,1)" text-anchor="middle" font-size="7.8" font-style="italic" fill="#1a1a1a">NS</text>
<rect x="444.59" y="343.19" width="23.6" height="9.4" fill="#393939"/>
<rect x="469.86" y="343.19" width="23.6" height="9.4" fill="#8b8b8b"/>
<rect x="495.13" y="343.19" width="23.6" height="9.4" fill="#8b8b8b"/>
<text transform="translate(255.3,360.8) scale(0.92,1)" text-anchor="middle" font-size="7.3" font-weight="bold" fill="#0a0a0a">LTNP</text>
<rect x="267.70" y="353.76" width="23.6" height="9.4" fill="#cacaca"/>
<text x="279.5" y="360.1" text-anchor="middle" font-size="7" font-weight="bold" fill="#1a1a1a">*</text>
<rect x="292.97" y="353.76" width="23.6" height="9.4" fill="#cacaca"/>
<text transform="translate(304.8,361.3) scale(0.86,1)" text-anchor="middle" font-size="7.8" font-style="italic" fill="#1a1a1a">NS</text>
<rect x="318.24" y="353.76" width="23.6" height="9.4" fill="#cacaca"/>
<text x="330.0" y="360.1" text-anchor="middle" font-size="7" font-weight="bold" fill="#1a1a1a">*</text>
<rect x="343.51" y="353.76" width="23.6" height="9.4" fill="#cacaca"/>
<text transform="translate(355.3,361.3) scale(0.86,1)" text-anchor="middle" font-size="7.8" font-style="italic" fill="#1a1a1a">NS</text>
<rect x="368.78" y="353.76" width="23.6" height="9.4" fill="#cacaca"/>
<text transform="translate(380.6,361.3) scale(0.86,1)" text-anchor="middle" font-size="7.8" font-style="italic" fill="#1a1a1a">NS</text>
<rect x="394.05" y="353.76" width="23.6" height="9.4" fill="#cacaca"/>
<text transform="translate(405.8,361.3) scale(0.86,1)" text-anchor="middle" font-size="7.8" font-style="italic" fill="#1a1a1a">NS</text>
<rect x="419.32" y="353.76" width="23.6" height="9.4" fill="#cacaca"/>
<text transform="translate(431.1,361.3) scale(0.86,1)" text-anchor="middle" font-size="7.8" font-style="italic" fill="#1a1a1a">NS</text>
<rect x="444.59" y="353.76" width="23.6" height="9.4" fill="#cacaca"/>
<text transform="translate(456.4,361.3) scale(0.86,1)" text-anchor="middle" font-size="7.8" font-style="italic" fill="#1a1a1a">NS</text>
<rect x="469.86" y="353.76" width="23.6" height="9.4" fill="#393939"/>
<rect x="495.13" y="353.76" width="23.6" height="9.4" fill="#8b8b8b"/>
<text transform="translate(255.3,371.3) scale(0.92,1)" text-anchor="middle" font-size="7.3" font-weight="bold" fill="#0a0a0a">EC</text>
<rect x="267.70" y="364.33" width="23.6" height="9.4" fill="#cacaca"/>
<text transform="translate(279.5,371.8) scale(0.86,1)" text-anchor="middle" font-size="7.8" font-style="italic" fill="#1a1a1a">NS</text>
<rect x="292.97" y="364.33" width="23.6" height="9.4" fill="#cacaca"/>
<text transform="translate(304.8,371.8) scale(0.86,1)" text-anchor="middle" font-size="7.8" font-style="italic" fill="#1a1a1a">NS</text>
<rect x="318.24" y="364.33" width="23.6" height="9.4" fill="#cacaca"/>
<text x="330.0" y="370.6" text-anchor="middle" font-size="7" font-weight="bold" fill="#1a1a1a">*</text>
<rect x="343.51" y="364.33" width="23.6" height="9.4" fill="#cacaca"/>
<text transform="translate(355.3,371.8) scale(0.86,1)" text-anchor="middle" font-size="7.8" font-style="italic" fill="#1a1a1a">NS</text>
<rect x="368.78" y="364.33" width="23.6" height="9.4" fill="#cacaca"/>
<text transform="translate(380.6,371.8) scale(0.86,1)" text-anchor="middle" font-size="7.8" font-style="italic" fill="#1a1a1a">NS</text>
<rect x="394.05" y="364.33" width="23.6" height="9.4" fill="#cacaca"/>
<text transform="translate(405.8,371.8) scale(0.86,1)" text-anchor="middle" font-size="7.8" font-style="italic" fill="#1a1a1a">NS</text>
<rect x="419.32" y="364.33" width="23.6" height="9.4" fill="#cacaca"/>
<text transform="translate(431.1,371.8) scale(0.86,1)" text-anchor="middle" font-size="7.8" font-style="italic" fill="#1a1a1a">NS</text>
<rect x="444.59" y="364.33" width="23.6" height="9.4" fill="#cacaca"/>
<text transform="translate(456.4,371.8) scale(0.86,1)" text-anchor="middle" font-size="7.8" font-style="italic" fill="#1a1a1a">NS</text>
<rect x="469.86" y="364.33" width="23.6" height="9.4" fill="#cacaca"/>
<text transform="translate(481.7,371.8) scale(0.86,1)" text-anchor="middle" font-size="7.8" font-style="italic" fill="#1a1a1a">NS</text>
<rect x="495.13" y="364.33" width="23.6" height="9.4" fill="#393939"/>
<text transform="translate(280.1,467.6) scale(0.94,1)" text-anchor="middle" font-size="7.3" font-weight="bold" fill="#0a0a0a">U</text>
<text transform="translate(305.3,467.6) scale(0.94,1)" text-anchor="middle" font-size="7.3" font-weight="bold" fill="#0a0a0a">HR</text>
<text transform="translate(330.5,467.6) scale(0.94,1)" text-anchor="middle" font-size="7.3" font-weight="bold" fill="#0a0a0a">I-II</text>
<text transform="translate(355.8,467.6) scale(0.94,1)" text-anchor="middle" font-size="7.3" font-weight="bold" fill="#0a0a0a">III-IV</text>
<text transform="translate(381.0,467.6) scale(0.94,1)" text-anchor="middle" font-size="7.3" font-weight="bold" fill="#0a0a0a">V-VI</text>
<text transform="translate(406.2,467.6) scale(0.94,1)" text-anchor="middle" font-size="7.3" font-weight="bold" fill="#0a0a0a">E</text>
<text transform="translate(431.4,467.6) scale(0.94,1)" text-anchor="middle" font-size="7.3" font-weight="bold" fill="#0a0a0a">CU</text>
<text transform="translate(456.6,467.6) scale(0.94,1)" text-anchor="middle" font-size="7.3" font-weight="bold" fill="#0a0a0a">CT</text>
<text transform="translate(481.9,467.6) scale(0.94,1)" text-anchor="middle" font-size="7.3" font-weight="bold" fill="#0a0a0a">LTNP</text>
<text transform="translate(507.1,467.6) scale(0.94,1)" text-anchor="middle" font-size="7.3" font-weight="bold" fill="#0a0a0a">EC</text>
<text transform="translate(255.3,477.7) scale(0.92,1)" text-anchor="middle" font-size="7.3" font-weight="bold" fill="#0a0a0a">U</text>
<rect x="268.40" y="470.80" width="23.4" height="9.2" fill="#393939"/>
<rect x="293.62" y="470.80" width="23.4" height="9.2" fill="#8b8b8b"/>
<rect x="318.84" y="470.80" width="23.4" height="9.2" fill="#8b8b8b"/>
<rect x="344.06" y="470.80" width="23.4" height="9.2" fill="#8b8b8b"/>
<rect x="369.28" y="470.80" width="23.4" height="9.2" fill="#8b8b8b"/>
<rect x="394.50" y="470.80" width="23.4" height="9.2" fill="#8b8b8b"/>
<rect x="419.72" y="470.80" width="23.4" height="9.2" fill="#8b8b8b"/>
<rect x="444.94" y="470.80" width="23.4" height="9.2" fill="#8b8b8b"/>
<rect x="470.16" y="470.80" width="23.4" height="9.2" fill="#8b8b8b"/>
<rect x="495.38" y="470.80" width="23.4" height="9.2" fill="#8b8b8b"/>
<text transform="translate(255.3,488.2) scale(0.92,1)" text-anchor="middle" font-size="7.3" font-weight="bold" fill="#0a0a0a">HR</text>
<rect x="268.40" y="481.29" width="23.4" height="9.2" fill="#cacaca"/>
<text transform="translate(280.1,488.7) scale(0.86,1)" text-anchor="middle" font-size="7.8" font-style="italic" fill="#1a1a1a">NS</text>
<rect x="293.62" y="481.29" width="23.4" height="9.2" fill="#393939"/>
<rect x="318.84" y="481.29" width="23.4" height="9.2" fill="#8b8b8b"/>
<rect x="344.06" y="481.29" width="23.4" height="9.2" fill="#8b8b8b"/>
<rect x="369.28" y="481.29" width="23.4" height="9.2" fill="#8b8b8b"/>
<rect x="394.50" y="481.29" width="23.4" height="9.2" fill="#8b8b8b"/>
<rect x="419.72" y="481.29" width="23.4" height="9.2" fill="#8b8b8b"/>
<rect x="444.94" y="481.29" width="23.4" height="9.2" fill="#8b8b8b"/>
<rect x="470.16" y="481.29" width="23.4" height="9.2" fill="#8b8b8b"/>
<rect x="495.38" y="481.29" width="23.4" height="9.2" fill="#8b8b8b"/>
<text transform="translate(255.3,498.7) scale(0.92,1)" text-anchor="middle" font-size="7.3" font-weight="bold" fill="#0a0a0a">I-II</text>
<rect x="268.40" y="491.78" width="23.4" height="9.2" fill="#cacaca"/>
<text x="280.1" y="498.0" text-anchor="middle" font-size="7" font-weight="bold" fill="#1a1a1a">***</text>
<rect x="293.62" y="491.78" width="23.4" height="9.2" fill="#cacaca"/>
<text x="305.3" y="498.0" text-anchor="middle" font-size="7" font-weight="bold" fill="#1a1a1a">***</text>
<rect x="318.84" y="491.78" width="23.4" height="9.2" fill="#393939"/>
<rect x="344.06" y="491.78" width="23.4" height="9.2" fill="#8b8b8b"/>
<rect x="369.28" y="491.78" width="23.4" height="9.2" fill="#8b8b8b"/>
<rect x="394.50" y="491.78" width="23.4" height="9.2" fill="#8b8b8b"/>
<rect x="419.72" y="491.78" width="23.4" height="9.2" fill="#8b8b8b"/>
<rect x="444.94" y="491.78" width="23.4" height="9.2" fill="#8b8b8b"/>
<rect x="470.16" y="491.78" width="23.4" height="9.2" fill="#8b8b8b"/>
<rect x="495.38" y="491.78" width="23.4" height="9.2" fill="#8b8b8b"/>
<text transform="translate(255.3,509.2) scale(0.92,1)" text-anchor="middle" font-size="7.3" font-weight="bold" fill="#0a0a0a">III-IV</text>
<rect x="268.40" y="502.27" width="23.4" height="9.2" fill="#cacaca"/>
<text transform="translate(280.1,509.7) scale(0.86,1)" text-anchor="middle" font-size="7.8" font-style="italic" fill="#1a1a1a">NS</text>
<rect x="293.62" y="502.27" width="23.4" height="9.2" fill="#cacaca"/>
<text transform="translate(305.3,509.7) scale(0.86,1)" text-anchor="middle" font-size="7.8" font-style="italic" fill="#1a1a1a">NS</text>
<rect x="318.84" y="502.27" width="23.4" height="9.2" fill="#cacaca"/>
<text transform="translate(330.5,509.7) scale(0.86,1)" text-anchor="middle" font-size="7.8" font-style="italic" fill="#1a1a1a">NS</text>
<rect x="344.06" y="502.27" width="23.4" height="9.2" fill="#393939"/>
<rect x="369.28" y="502.27" width="23.4" height="9.2" fill="#8b8b8b"/>
<rect x="394.50" y="502.27" width="23.4" height="9.2" fill="#8b8b8b"/>
<rect x="419.72" y="502.27" width="23.4" height="9.2" fill="#8b8b8b"/>
<rect x="444.94" y="502.27" width="23.4" height="9.2" fill="#8b8b8b"/>
<rect x="470.16" y="502.27" width="23.4" height="9.2" fill="#8b8b8b"/>
<rect x="495.38" y="502.27" width="23.4" height="9.2" fill="#8b8b8b"/>
<text transform="translate(255.3,519.7) scale(0.92,1)" text-anchor="middle" font-size="7.3" font-weight="bold" fill="#0a0a0a">V-VI</text>
<rect x="268.40" y="512.76" width="23.4" height="9.2" fill="#cacaca"/>
<text x="280.1" y="519.0" text-anchor="middle" font-size="7" font-weight="bold" fill="#1a1a1a">***</text>
<rect x="293.62" y="512.76" width="23.4" height="9.2" fill="#cacaca"/>
<text x="305.3" y="519.0" text-anchor="middle" font-size="7" font-weight="bold" fill="#1a1a1a">*</text>
<rect x="318.84" y="512.76" width="23.4" height="9.2" fill="#cacaca"/>
<text transform="translate(330.5,520.2) scale(0.86,1)" text-anchor="middle" font-size="7.8" font-style="italic" fill="#1a1a1a">NS</text>
<rect x="344.06" y="512.76" width="23.4" height="9.2" fill="#cacaca"/>
<text transform="translate(355.8,520.2) scale(0.86,1)" text-anchor="middle" font-size="7.8" font-style="italic" fill="#1a1a1a">NS</text>
<rect x="369.28" y="512.76" width="23.4" height="9.2" fill="#393939"/>
<rect x="394.50" y="512.76" width="23.4" height="9.2" fill="#8b8b8b"/>
<rect x="419.72" y="512.76" width="23.4" height="9.2" fill="#8b8b8b"/>
<rect x="444.94" y="512.76" width="23.4" height="9.2" fill="#8b8b8b"/>
<rect x="470.16" y="512.76" width="23.4" height="9.2" fill="#8b8b8b"/>
<rect x="495.38" y="512.76" width="23.4" height="9.2" fill="#8b8b8b"/>
<text transform="translate(255.3,530.1) scale(0.92,1)" text-anchor="middle" font-size="7.3" font-weight="bold" fill="#0a0a0a">E</text>
<rect x="268.40" y="523.25" width="23.4" height="9.2" fill="#cacaca"/>
<text x="280.1" y="529.5" text-anchor="middle" font-size="7" font-weight="bold" fill="#1a1a1a">**</text>
<rect x="293.62" y="523.25" width="23.4" height="9.2" fill="#cacaca"/>
<text x="305.3" y="529.5" text-anchor="middle" font-size="7" font-weight="bold" fill="#1a1a1a">**</text>
<rect x="318.84" y="523.25" width="23.4" height="9.2" fill="#cacaca"/>
<text transform="translate(330.5,530.6) scale(0.86,1)" text-anchor="middle" font-size="7.8" font-style="italic" fill="#1a1a1a">NS</text>
<rect x="344.06" y="523.25" width="23.4" height="9.2" fill="#cacaca"/>
<text transform="translate(355.8,530.6) scale(0.86,1)" text-anchor="middle" font-size="7.8" font-style="italic" fill="#1a1a1a">NS</text>
<rect x="369.28" y="523.25" width="23.4" height="9.2" fill="#cacaca"/>
<text transform="translate(381.0,530.6) scale(0.86,1)" text-anchor="middle" font-size="7.8" font-style="italic" fill="#1a1a1a">NS</text>
<rect x="394.50" y="523.25" width="23.4" height="9.2" fill="#393939"/>
<rect x="419.72" y="523.25" width="23.4" height="9.2" fill="#8b8b8b"/>
<rect x="444.94" y="523.25" width="23.4" height="9.2" fill="#8b8b8b"/>
<rect x="470.16" y="523.25" width="23.4" height="9.2" fill="#8b8b8b"/>
<rect x="495.38" y="523.25" width="23.4" height="9.2" fill="#8b8b8b"/>
<text transform="translate(255.3,540.6) scale(0.92,1)" text-anchor="middle" font-size="7.3" font-weight="bold" fill="#0a0a0a">CU</text>
<rect x="268.40" y="533.74" width="23.4" height="9.2" fill="#cacaca"/>
<text x="280.1" y="539.9" text-anchor="middle" font-size="7" font-weight="bold" fill="#1a1a1a">**</text>
<rect x="293.62" y="533.74" width="23.4" height="9.2" fill="#cacaca"/>
<text x="305.3" y="539.9" text-anchor="middle" font-size="7" font-weight="bold" fill="#1a1a1a">***</text>
<rect x="318.84" y="533.74" width="23.4" height="9.2" fill="#cacaca"/>
<text transform="translate(330.5,541.1) scale(0.86,1)" text-anchor="middle" font-size="7.8" font-style="italic" fill="#1a1a1a">NS</text>
<rect x="344.06" y="533.74" width="23.4" height="9.2" fill="#cacaca"/>
<text transform="translate(355.8,541.1) scale(0.86,1)" text-anchor="middle" font-size="7.8" font-style="italic" fill="#1a1a1a">NS</text>
<rect x="369.28" y="533.74" width="23.4" height="9.2" fill="#cacaca"/>
<text transform="translate(381.0,541.1) scale(0.86,1)" text-anchor="middle" font-size="7.8" font-style="italic" fill="#1a1a1a">NS</text>
<rect x="394.50" y="533.74" width="23.4" height="9.2" fill="#cacaca"/>
<text transform="translate(406.2,541.1) scale(0.86,1)" text-anchor="middle" font-size="7.8" font-style="italic" fill="#1a1a1a">NS</text>
<rect x="419.72" y="533.74" width="23.4" height="9.2" fill="#393939"/>
<rect x="444.94" y="533.74" width="23.4" height="9.2" fill="#8b8b8b"/>
<rect x="470.16" y="533.74" width="23.4" height="9.2" fill="#8b8b8b"/>
<rect x="495.38" y="533.74" width="23.4" height="9.2" fill="#8b8b8b"/>
<text transform="translate(255.3,551.1) scale(0.92,1)" text-anchor="middle" font-size="7.3" font-weight="bold" fill="#0a0a0a">CT</text>
<rect x="268.40" y="544.23" width="23.4" height="9.2" fill="#cacaca"/>
<text x="280.1" y="550.4" text-anchor="middle" font-size="7" font-weight="bold" fill="#1a1a1a">**</text>
<rect x="293.62" y="544.23" width="23.4" height="9.2" fill="#cacaca"/>
<text x="305.3" y="550.4" text-anchor="middle" font-size="7" font-weight="bold" fill="#1a1a1a">**</text>
<rect x="318.84" y="544.23" width="23.4" height="9.2" fill="#cacaca"/>
<text transform="translate(330.5,551.6) scale(0.86,1)" text-anchor="middle" font-size="7.8" font-style="italic" fill="#1a1a1a">NS</text>
<rect x="344.06" y="544.23" width="23.4" height="9.2" fill="#cacaca"/>
<text transform="translate(355.8,551.6) scale(0.86,1)" text-anchor="middle" font-size="7.8" font-style="italic" fill="#1a1a1a">NS</text>
<rect x="369.28" y="544.23" width="23.4" height="9.2" fill="#cacaca"/>
<text transform="translate(381.0,551.6) scale(0.86,1)" text-anchor="middle" font-size="7.8" font-style="italic" fill="#1a1a1a">NS</text>
<rect x="394.50" y="544.23" width="23.4" height="9.2" fill="#cacaca"/>
<text transform="translate(406.2,551.6) scale(0.86,1)" text-anchor="middle" font-size="7.8" font-style="italic" fill="#1a1a1a">NS</text>
<rect x="419.72" y="544.23" width="23.4" height="9.2" fill="#cacaca"/>
<text transform="translate(431.4,551.6) scale(0.86,1)" text-anchor="middle" font-size="7.8" font-style="italic" fill="#1a1a1a">NS</text>
<rect x="444.94" y="544.23" width="23.4" height="9.2" fill="#393939"/>
<rect x="470.16" y="544.23" width="23.4" height="9.2" fill="#8b8b8b"/>
<rect x="495.38" y="544.23" width="23.4" height="9.2" fill="#8b8b8b"/>
<text transform="translate(255.3,561.6) scale(0.92,1)" text-anchor="middle" font-size="7.3" font-weight="bold" fill="#0a0a0a">LTNP</text>
<rect x="268.40" y="554.72" width="23.4" height="9.2" fill="#cacaca"/>
<text x="280.1" y="560.9" text-anchor="middle" font-size="7" font-weight="bold" fill="#1a1a1a">**</text>
<rect x="293.62" y="554.72" width="23.4" height="9.2" fill="#cacaca"/>
<text x="305.3" y="560.9" text-anchor="middle" font-size="7" font-weight="bold" fill="#1a1a1a">**</text>
<rect x="318.84" y="554.72" width="23.4" height="9.2" fill="#cacaca"/>
<text transform="translate(330.5,562.1) scale(0.86,1)" text-anchor="middle" font-size="7.8" font-style="italic" fill="#1a1a1a">NS</text>
<rect x="344.06" y="554.72" width="23.4" height="9.2" fill="#cacaca"/>
<text transform="translate(355.8,562.1) scale(0.86,1)" text-anchor="middle" font-size="7.8" font-style="italic" fill="#1a1a1a">NS</text>
<rect x="369.28" y="554.72" width="23.4" height="9.2" fill="#cacaca"/>
<text transform="translate(381.0,562.1) scale(0.86,1)" text-anchor="middle" font-size="7.8" font-style="italic" fill="#1a1a1a">NS</text>
<rect x="394.50" y="554.72" width="23.4" height="9.2" fill="#cacaca"/>
<text transform="translate(406.2,562.1) scale(0.86,1)" text-anchor="middle" font-size="7.8" font-style="italic" fill="#1a1a1a">NS</text>
<rect x="419.72" y="554.72" width="23.4" height="9.2" fill="#cacaca"/>
<text transform="translate(431.4,562.1) scale(0.86,1)" text-anchor="middle" font-size="7.8" font-style="italic" fill="#1a1a1a">NS</text>
<rect x="444.94" y="554.72" width="23.4" height="9.2" fill="#cacaca"/>
<text transform="translate(456.6,562.1) scale(0.86,1)" text-anchor="middle" font-size="7.8" font-style="italic" fill="#1a1a1a">NS</text>
<rect x="470.16" y="554.72" width="23.4" height="9.2" fill="#393939"/>
<rect x="495.38" y="554.72" width="23.4" height="9.2" fill="#8b8b8b"/>
<text transform="translate(255.3,572.1) scale(0.92,1)" text-anchor="middle" font-size="7.3" font-weight="bold" fill="#0a0a0a">EC</text>
<rect x="268.40" y="565.21" width="23.4" height="9.2" fill="#cacaca"/>
<text x="280.1" y="571.4" text-anchor="middle" font-size="7" font-weight="bold" fill="#1a1a1a">*</text>
<rect x="293.62" y="565.21" width="23.4" height="9.2" fill="#cacaca"/>
<text x="305.3" y="571.4" text-anchor="middle" font-size="7" font-weight="bold" fill="#1a1a1a">*</text>
<rect x="318.84" y="565.21" width="23.4" height="9.2" fill="#cacaca"/>
<text transform="translate(330.5,572.6) scale(0.86,1)" text-anchor="middle" font-size="7.8" font-style="italic" fill="#1a1a1a">NS</text>
<rect x="344.06" y="565.21" width="23.4" height="9.2" fill="#cacaca"/>
<text transform="translate(355.8,572.6) scale(0.86,1)" text-anchor="middle" font-size="7.8" font-style="italic" fill="#1a1a1a">NS</text>
<rect x="369.28" y="565.21" width="23.4" height="9.2" fill="#cacaca"/>
<text transform="translate(381.0,572.6) scale(0.86,1)" text-anchor="middle" font-size="7.8" font-style="italic" fill="#1a1a1a">NS</text>
<rect x="394.50" y="565.21" width="23.4" height="9.2" fill="#cacaca"/>
<text transform="translate(406.2,572.6) scale(0.86,1)" text-anchor="middle" font-size="7.8" font-style="italic" fill="#1a1a1a">NS</text>
<rect x="419.72" y="565.21" width="23.4" height="9.2" fill="#cacaca"/>
<text transform="translate(431.4,572.6) scale(0.86,1)" text-anchor="middle" font-size="7.8" font-style="italic" fill="#1a1a1a">NS</text>
<rect x="444.94" y="565.21" width="23.4" height="9.2" fill="#cacaca"/>
<text transform="translate(456.6,572.6) scale(0.86,1)" text-anchor="middle" font-size="7.8" font-style="italic" fill="#1a1a1a">NS</text>
<rect x="470.16" y="565.21" width="23.4" height="9.2" fill="#cacaca"/>
<text transform="translate(481.9,572.6) scale(0.86,1)" text-anchor="middle" font-size="7.8" font-style="italic" fill="#1a1a1a">NS</text>
<rect x="495.38" y="565.21" width="23.4" height="9.2" fill="#393939"/>
<text x="30.9" y="11.5" font-size="14" font-weight="bold" fill="#000">A</text>
<rect x="66.6" y="14.8" width="76.7" height="76.4" fill="none" stroke="#7a7a7a" stroke-width="1"/>
<rect x="193.5" y="14.5" width="76.1" height="76.3" fill="none" stroke="#7a7a7a" stroke-width="1"/>
<rect x="314.6" y="14.6" width="76.7" height="76.7" fill="none" stroke="#7a7a7a" stroke-width="1"/>
<rect x="314.6" y="114.6" width="76.7" height="76.8" fill="none" stroke="#7a7a7a" stroke-width="1"/>
<polygon points="80.4,55.6 122.3,31.6 122.6,83.2 82,89.3 80.4,78" fill="none" stroke="#444" stroke-width="0.8"/>
<path d="M72.9,88.6 L73.8,84.4 L77.7,80.5 L82.5,75.7 L85.4,70 L88.3,65.2 L91.2,61.8 L96,60.3 L100.8,57.5 L104.6,54.6 L106.5,49.8 L109.4,47.4 L112.3,45.9 L115.2,45.9 L117.1,47.8 L117.1,53.6 L115.2,60.3 L112.3,66.1 L110.4,70.9 L107.5,74.8 L101.7,79.6 L96,82.5 L89.2,85.3 L82.5,87.8 L75.8,89.4 Z" fill="#050505"/>
<defs><radialGradient id="g1" gradientUnits="userSpaceOnUse" cx="93.1" cy="73" r="20"><stop offset="0" stop-color="#1e1e1e"/><stop offset="0.25" stop-color="#6a6a6a"/><stop offset="0.6" stop-color="#b4b4b4"/><stop offset="1" stop-color="#dedede"/></radialGradient></defs>
<path d="M74.8,88 L77,84.5 L80.6,80.5 L84.4,74.8 L87.3,70 L90.2,65.6 L95,63.2 L99.8,60.8 L103.7,59.4 L106.5,57.5 L109.4,57 L110.8,57.6 L111.3,59.4 L110.4,63.2 L108.5,67.1 L106.5,70 L102.7,74.8 L98.8,78.6 L94,81 L89.2,83.4 L84.4,84.4 L79.6,86 Z" fill="url(#g1)"/>
<path d="M75.5,87.8 L77.5,84.6 L80.8,80.8 L84.6,75" fill="none" stroke="#ccc" stroke-width="0.6"/>
<circle cx="82" cy="84.8" r="2.6" fill="#9a9a9a" stroke="#333" stroke-width="0.6"/>
<circle cx="82" cy="84.8" r="1.2" fill="#777" stroke="#ddd" stroke-width="0.4"/>
<ellipse cx="119.5" cy="15.8" rx="6.5" ry="1.2" fill="#222"/>
<text x="136" y="90" text-anchor="middle" font-size="8.5" font-weight="bold" fill="#111">99</text>
<line x1="118.7" y1="62.1" x2="170.5" y2="62.1" stroke="#000" stroke-width="1.6"/>
<polyline points="163,57.5 171,62.1 163,66.7" fill="none" stroke="#000" stroke-width="1.6"/>
<text transform="translate(185.5,53.4) rotate(-90)" text-anchor="middle" font-size="8.3" fill="#222" stroke="#222" stroke-width="0.15">HLA-DR</text>
<text transform="translate(309.3,53.1) rotate(-90)" text-anchor="middle" font-size="8.3" fill="#222" stroke="#222" stroke-width="0.15">HLA-DR</text>
<text transform="translate(309.3,153.5) rotate(-90)" text-anchor="middle" font-size="8.3" fill="#222" stroke="#222" stroke-width="0.15">HLA-DR</text>
<text x="232.6" y="110.2" text-anchor="middle" font-size="8.0" fill="#222" stroke="#222" stroke-width="0.15">Lineage</text>
<text x="353" y="104" text-anchor="middle" font-size="8.0" fill="#222" stroke="#222" stroke-width="0.15">CD123</text>
<text x="353" y="203.2" text-anchor="middle" font-size="8.0" fill="#222" stroke="#222" stroke-width="0.15">CD11c</text>
<text x="398.3" y="33.4" font-size="10.2" font-weight="bold" fill="#111">pDC</text>
<text x="397.2" y="136.2" font-size="10.2" font-weight="bold" fill="#111">mDC</text>
<text x="390.5" y="62.8" text-anchor="end" font-size="8.5" font-weight="bold" fill="#111">21.8</text>
<text x="389.5" y="160.5" text-anchor="end" font-size="8.5" font-weight="bold" fill="#111">47</text>
<text x="195" y="23.2" font-size="8.5" font-weight="bold" fill="#111">1.16</text>
<rect x="193.5" y="14.5" width="31.9" height="32.8" fill="none" stroke="#7a7a7a" stroke-width="0.9"/>
<path d="M193.8,90.2 L193.8,88.6 Q200,86.8 208,87.6 Q215,88.2 220,87.2 L252,88 Q256,89 258,90.2 Z" fill="#aaa" stroke="#444" stroke-width="0.6"/>
<defs><linearGradient id="g2" x1="0" y1="0" x2="0" y2="1"><stop offset="0" stop-color="#a0a0a0"/><stop offset="0.12" stop-color="#505050"/><stop offset="0.5" stop-color="#333"/><stop offset="1" stop-color="#444"/></linearGradient></defs>
<path d="M220.8,89.5 L221.2,76 Q220.6,68 221.6,58 L222.4,40 Q222.6,31 226.5,25.5 Q231,22.3 235,22 Q240,19.8 248.5,18.2 Q253,18.4 255.2,23 Q256.6,31 254.4,37.7 Q251.5,43 249.3,46.5 Q247.4,51 247.4,56.5 Q250,63 251.2,72 Q251.6,81 252.4,89.5 Z" fill="url(#g2)" stroke="#000" stroke-width="1.3"/>
<path d="M222.2,88 L222.6,60 L223.6,40 Q224,31 228,27 Q233,24.4 238,23.6 Q245,21.5 250,21.2 Q253.4,22 253.8,27 Q254.2,33 251.5,38 Q248,43 246.4,48 Q244.6,53 245.6,58 Q248.4,66 249,74 L249.8,88" fill="none" stroke="#d8d8d8" stroke-width="0.8"/>
<path d="M224,88 L224.4,55 L225.4,38 Q226,31 230,28.6 Q236,26 244,24.5 Q250,24 251.3,27 Q251.7,33 248,38.5 Q244,44 243.2,50 Q243,57 245.6,63 Q247.2,72 247.4,88" fill="none" stroke="#1a1a1a" stroke-width="0.9"/>
<ellipse cx="231.6" cy="72" rx="5.9" ry="18" fill="#1c1c1c" stroke="#e6e6e6" stroke-width="1"/>
<ellipse cx="231.4" cy="73" rx="4.1" ry="13" fill="#3a3a3a" stroke="#0a0a0a" stroke-width="0.9"/>
<ellipse cx="231.2" cy="74" rx="2.7" ry="8.5" fill="#5a5a5a" stroke="#f0f0f0" stroke-width="1"/>
<ellipse cx="231" cy="74.5" rx="1.2" ry="4.2" fill="#c8c8c8"/>
<ellipse cx="242.4" cy="77.5" rx="4.6" ry="12.8" fill="#101010" stroke="#d8d8d8" stroke-width="1"/>
<ellipse cx="242.6" cy="76" rx="2.4" ry="7" fill="#050505"/>
<path d="M236.2,50 Q234,44 236.5,38 Q239,34 243,32 Q246.5,29 248.5,30 Q250,33 247.5,38 Q245,42 243.5,46 Q242,51 239,51.5 Q237,51.5 236.2,50 Z" fill="#333" stroke="#e4e4e4" stroke-width="0.9"/>
<ellipse cx="239.6" cy="44" rx="2.6" ry="4.5" fill="#444" stroke="#ddd" stroke-width="0.8"/>
<ellipse cx="239.6" cy="44" rx="1.1" ry="2" fill="#ccc"/>
<ellipse cx="245.8" cy="36" rx="1.1" ry="2.8" transform="rotate(30 245.8 36)" fill="#aaa"/>
<ellipse cx="231.5" cy="33.6" rx="1.5" ry="2.2" fill="#222" stroke="#ddd" stroke-width="0.6"/>
<ellipse cx="231.5" cy="33.6" rx="0.6" ry="1" fill="#eee"/>
<path d="M205.5,88.2 L205.3,85.9 Q203.8,83 203.5,80.5 Q201.4,78 201.5,75.7 Q201.3,72.5 202.2,70.3 Q203.5,67.5 204.9,64.9 Q206,61 207.6,58.8 Q209,57.2 210.3,57.4 Q212,57.4 213,58.1 Q214.8,60.5 215.7,63.6 Q217.4,66.5 217.1,69.6 Q216.6,71.8 215.7,73.7 Q215.2,76.5 215,79.1 Q214.6,84 214.4,88.2 Z" fill="#050505"/>
<path d="M209.6,88 Q209.2,82 208.9,77.1 Q207.4,74.5 206.2,71.7 Q208.2,67.5 211,64.2 Q212.4,64.6 213,65.6 Q214,68.5 213.7,71.7 Q212.9,75.2 212.3,78.5 Q211.8,83 211.6,88 Z" fill="#c9c9c9"/>
<ellipse cx="211.8" cy="31.4" rx="4.6" ry="2.3" fill="#fff" stroke="#000" stroke-width="1.4"/>
<ellipse cx="211.3" cy="31.4" rx="1.9" ry="0.9" fill="#fff" stroke="#444" stroke-width="0.6"/>
<path d="M216.2,31.4 Q219,30.5 221,31.8 L224,30" fill="none" stroke="#000" stroke-width="1"/>
<path d="M193.6,64.9 Q195.8,67 195.8,70.3 Q195.8,73.8 193.6,75.7 Z" fill="#111"/>
<line x1="224" y1="26.6" x2="292" y2="26.6" stroke="#000" stroke-width="1.6"/>
<polyline points="284.7,22.4 292.5,26.6 284.7,30.8" fill="none" stroke="#000" stroke-width="1.6"/>
<polyline points="270.1,26.6 270.1,131.8 292,131.8" fill="none" stroke="#000" stroke-width="1.8"/>
<polyline points="284.7,127.6 292.5,131.8 284.7,136" fill="none" stroke="#000" stroke-width="1.6"/>
<rect x="364.8" y="16.5" width="19.6" height="33.5" fill="none" stroke="#6a6a6a" stroke-width="0.9"/>
<defs><linearGradient id="g3" x1="0" y1="0" x2="1" y2="0"><stop offset="0" stop-color="#a0a0a0"/><stop offset="0.12" stop-color="#666"/><stop offset="1" stop-color="#777"/></linearGradient></defs>
<path d="M314.6,16.9 Q316,19 317.8,21.7 L320.5,21 L323.5,21.7 L326.5,22.8 L329.3,23.1 L331.5,21 L334.1,20.3 L337,21.4 L339.9,21.7 L343,21 L345.7,21.2 L350.5,22.2 L356.2,23.6 L359.6,24.6 Q360,26.5 358.2,28.4 L355.3,33.2 L354.3,38 L357.2,40.9 L359.1,43.8 L357.2,46.7 L350.5,47.2 L331.2,47.7 L314.6,48.6 Z" fill="url(#g3)" stroke="#000" stroke-width="1.1"/>
<path d="M318.5,23.6 L324,23.8 L329.5,25 L334.5,22.8 L340,23.6 L346,23.2 L351,24.3 L356.5,25.8 Q355.5,28 353.6,31" fill="none" stroke="#c4c4c4" stroke-width="1.4"/>
<path d="M319,44.5 Q317.5,36 320,28 Q325,26.5 330,27.5 Q336,25.5 343,26 Q350,26.4 353.5,28.2 Q351.5,32 351,36 Q351.5,41 355,44.8 Q345,46 335,46 Z" fill="#6a6a6a" stroke="#111" stroke-width="1.1"/>
<path d="M337.5,29.8 Q343,27.4 350.4,29 Q350,33 348.3,36.5 Q346.4,38.7 346.4,41.5 Q345.6,43.6 344,42.6 Q343,39.5 340.8,37.6 Q337,35 337.5,29.8 Z" fill="#777" stroke="#eee" stroke-width="1"/>
<path d="M339.5,30.8 Q343,29.5 348,30.6 Q347.2,34 345.4,36.4 Q344.4,38.5 344.2,40 Q343,37 341.5,35.6 Q339.4,33.6 339.5,30.8 Z" fill="#3a3a3a" stroke="#111" stroke-width="0.7"/>
<ellipse cx="343.5" cy="32.6" rx="2.2" ry="1.6" fill="#999" stroke="#eee" stroke-width="0.6"/>
<path d="M321,31 Q326,29.5 331,31.5 Q335,34 335.5,38 Q332,40.5 327,39.5 Q322.5,38 321,35 Z" fill="#888" stroke="#111" stroke-width="1"/>
<path d="M323,33 Q327,31.8 330.5,33.5 Q332.5,35.5 331.5,37.6 Q327.5,38.4 324.5,36.8 Z" fill="#aaa" stroke="#ddd" stroke-width="0.5"/>
<ellipse cx="331.6" cy="43.4" rx="4.3" ry="2.2" fill="#2a2a2a" stroke="#d0d0d0" stroke-width="0.8"/>
<ellipse cx="331.6" cy="43.4" rx="2.2" ry="1" fill="#666"/>
<path d="M336,46.5 Q340,42.5 344.5,44.5 Q349,46 352,44.5" fill="none" stroke="#bbb" stroke-width="0.8"/>
<path d="M315.2,20 Q317,30 316.5,47" fill="none" stroke="#b0b0b0" stroke-width="1.4"/>
<path d="M359.5,28.6 Q362,29.6 366.5,29.2" fill="none" stroke="#111" stroke-width="1.2"/>
<ellipse cx="374.6" cy="33.2" rx="6.4" ry="8.8" fill="#b0b0b0" stroke="#222" stroke-width="0.8"/>
<ellipse cx="374.6" cy="32.8" rx="5" ry="7" fill="#8a8a8a" stroke="#e0e0e0" stroke-width="0.6"/>
<ellipse cx="374.7" cy="32.4" rx="3.7" ry="5.2" fill="#999" stroke="#333" stroke-width="0.6"/>
<ellipse cx="374.8" cy="32" rx="2.4" ry="3.4" fill="#777" stroke="#ddd" stroke-width="0.5"/>
<ellipse cx="374.8" cy="31.8" rx="1.1" ry="1.6" fill="#111"/>
<line x1="345.1" y1="116.2" x2="345.1" y2="147.9" stroke="#6a6a6a" stroke-width="0.9"/>
<line x1="345.1" y1="116.2" x2="391.3" y2="116.2" stroke="#6a6a6a" stroke-width="0.9"/>
<line x1="314.6" y1="147.9" x2="391.3" y2="147.9" stroke="#6a6a6a" stroke-width="0.9"/>
<defs><linearGradient id="g4" x1="0" y1="0" x2="1" y2="0"><stop offset="0" stop-color="#5a5a5a"/><stop offset="0.4" stop-color="#666"/><stop offset="0.5" stop-color="#999"/><stop offset="0.65" stop-color="#888"/><stop offset="1" stop-color="#555"/></linearGradient></defs>
<path d="M314.6,121.8 L315.1,122.1 L319.7,125.3 L324.3,125 L329.7,123.4 L333.5,123.8 L338.2,126.1 L341.2,128 L342.8,127.6 L343.5,129.4 L343.4,133.6 L345.1,134.6 L349.5,128.8 L354.2,125.1 L360.6,122.3 L366.2,120.5 L368,118.6 L371.7,119.5 L376.3,118.6 L380,120.5 L381.9,126 L379.1,130.6 L375.4,135.2 L370.8,138.9 L365.2,141.7 L359.7,143.5 L356,145.9 L351.4,146.3 L347.7,145.4 L344,146.5 L330,147.6 L314.6,148 Z" fill="url(#g4)" stroke="#000" stroke-width="1.1"/>
<path d="M316.5,146 L316.5,126.5 Q322,127.8 328,126 Q335,126 339.5,129.5 Q341.5,133 340,137 Q338,142 336,146" fill="none" stroke="#ccc" stroke-width="0.9"/>
<path d="M318,144 Q317.6,135 318.6,129 Q325,129.4 330,128.2 Q336,128.6 337.6,132 Q337.8,136 334.6,137.4 Q328,138 321,136.5" fill="none" stroke="#111" stroke-width="1.1"/>
<path d="M320.2,129.8 Q327,130.5 331.5,129.8 Q334.8,131 334.4,134 Q332,136 327,135 Q321,134.5 320.2,132 Z" fill="#9a9a9a" stroke="#e6e6e6" stroke-width="0.8"/>
<ellipse cx="329.8" cy="132.5" rx="2.2" ry="1.8" fill="#2a2a2a"/>
<path d="M322,146.5 Q320.5,141 324.5,138.4 Q329,137.5 332,139.5 Q334,142.5 332.5,146" fill="#1a1a1a" stroke="#d0d0d0" stroke-width="0.8"/>
<ellipse cx="327.6" cy="143" rx="2.4" ry="1.6" fill="#777"/>
<path d="M318.5,137.5 Q319.5,141 318.5,145" fill="none" stroke="#111" stroke-width="1"/>
<ellipse cx="338.5" cy="140.5" rx="1" ry="1" fill="#111"/>
<path d="M340,145.5 Q341.5,140 343,137" fill="none" stroke="#ddd" stroke-width="0.7"/>
<ellipse cx="366.5" cy="131.5" rx="14.5" ry="7.6" transform="rotate(-27 366.5 131.5)" fill="#3a3a3a" stroke="#111" stroke-width="1"/>
<ellipse cx="366.2" cy="131.8" rx="12" ry="6.2" transform="rotate(-27 366.2 131.8)" fill="#4a4a4a" stroke="#d8d8d8" stroke-width="0.8"/>
<ellipse cx="365.6" cy="132.2" rx="9.4" ry="4.8" transform="rotate(-27 365.6 132.2)" fill="#333" stroke="#aaa" stroke-width="0.7"/>
<ellipse cx="364.8" cy="132.4" rx="6.4" ry="3.4" transform="rotate(-27 364.8 132.4)" fill="#555" stroke="#e4e4e4" stroke-width="0.8"/>
<ellipse cx="364" cy="132.5" rx="3" ry="1.6" transform="rotate(-27 364 132.5)" fill="#111"/>
<ellipse cx="316" cy="135" rx="1.3" ry="11" fill="#8a8a8a"/>
</svg>
</body></html>
